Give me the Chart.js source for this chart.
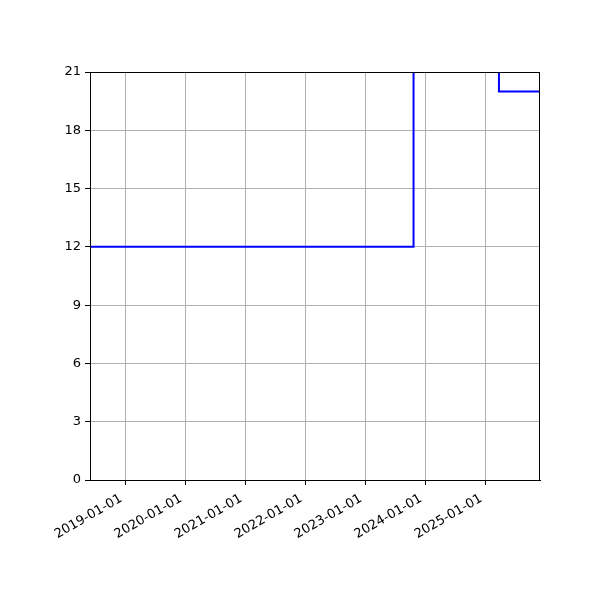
<!DOCTYPE html>
<html>
<head>
<meta charset="utf-8">
<script src="https://cdn.jsdelivr.net/npm/chart.js@4"></script>
<style>
  html, body { margin: 0; padding: 0; background: #fff; }
  #wrap { width: 600px; height: 600px; }
</style>
</head>
<body>
<div id="wrap"><canvas id="chart" width="600" height="600"></canvas></div>
<script>
// step points: value holds from each date until the next one
const stepDates = ['2018-06-01', '2023-10-23', '2025-03-26', '2025-12-01'];
const stepValues = [12, 24, 20, 20];
const xTickLabels = ['2019-01-01', '2020-01-01', '2021-01-01', '2022-01-01', '2023-01-01', '2024-01-01', '2025-01-01'];
const yTickLabels = ['0', '3', '6', '9', '12', '15', '18', '21'];

const xMin = Date.parse('2018-06-01');
const xMax = Date.parse('2025-12-01');

const frame = {
    id: 'frame',
    afterDraw(chart) {
        const { ctx, chartArea: a } = chart;
        ctx.save();
        ctx.strokeStyle = '#000';
        ctx.lineWidth = 1;
        ctx.strokeRect(a.left + 0.5, a.top + 0.5, a.right - a.left - 1, a.bottom - a.top);
        ctx.restore();
    }
};

Chart.defaults.font.family = '"DejaVu Sans", sans-serif';
Chart.defaults.font.size = 13;
Chart.defaults.color = '#000';

new Chart(document.getElementById('chart').getContext('2d'), {
    type: 'line',
    data: {
        datasets: [{
            data: stepDates.map((d, i) => ({ x: Date.parse(d), y: stepValues[i] })),
            borderColor: '#0000ff',
            borderWidth: 2,
            // chart.js 'before' = run flat at the old value, then jump at the new point
            stepped: 'before',
            pointRadius: 0,
            fill: false
        }]
    },
    options: {
        responsive: false,
        animation: false,
        layout: { padding: { left: 0, top: 72, right: 60, bottom: 0 } },
        plugins: { legend: { display: false }, tooltip: { enabled: false } },
        scales: {
            x: {
                type: 'linear',
                min: xMin,
                max: xMax,
                afterBuildTicks: s => { s.ticks = xTickLabels.map(t => ({ value: Date.parse(t) })); },
                afterFit: s => { s.height = 120; },
                ticks: {
                    autoSkip: false,
                    minRotation: 30,
                    maxRotation: 30,
                    padding: 6,
                    labelOffset: -4,
                    callback: v => xTickLabels.find(t => Date.parse(t) === v) || ''
                },
                grid: { color: '#b0b0b0', lineWidth: 1, tickColor: '#000', tickLength: 5 },
                border: { color: '#000', width: 1 }
            },
            y: {
                min: 0,
                max: 21,
                afterBuildTicks: s => { s.ticks = yTickLabels.map(t => ({ value: Number(t) })); },
                afterFit: s => { s.width = 90; },
                ticks: { padding: 4, callback: v => yTickLabels.find(t => Number(t) === v) || '' },
                grid: { color: '#b0b0b0', lineWidth: 1, tickColor: '#000', tickLength: 5 },
                border: { color: '#000', width: 1 }
            }
        }
    },
    plugins: [frame]
});
</script>
</body>
</html>
